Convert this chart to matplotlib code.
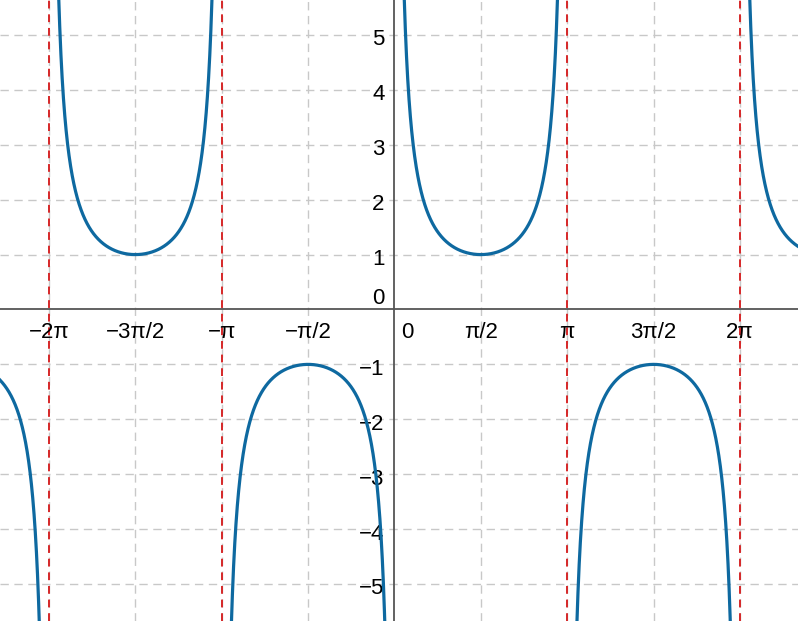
import numpy as np
import matplotlib
matplotlib.use("Agg")
import matplotlib.pyplot as plt
from matplotlib.transforms import offset_copy

plt.rcParams['font.family'] = ['Liberation Sans', 'DejaVu Sans']

# ---- data ----
pi = np.pi
x_ticks = [-2*pi, -1.5*pi, -pi, -0.5*pi, 0, 0.5*pi, pi, 1.5*pi, 2*pi]
x_tick_labels = ['\u22122\u03c0', '\u22123\u03c0/2', '\u2212\u03c0', '\u2212\u03c0/2', '0',
                 '\u03c0/2', '\u03c0', '3\u03c0/2', '2\u03c0']
y_ticks = [-5, -4, -3, -2, -1, 0, 1, 2, 3, 4, 5]
y_tick_labels = ['\u22125', '\u22124', '\u22123', '\u22122', '\u22121', '0', '1', '2', '3', '4', '5']
asymptotes = [-2*pi, -pi, pi, 2*pi]
x_range = (-7.174, 7.338)
y_range = (-5.674, 5.637)

# curve y = csc(x)
x = np.linspace(x_range[0], x_range[1], 6000)
s = np.sin(x)
y = np.where(np.abs(s) < 0.05, np.nan, 1.0 / np.where(s == 0, 1, s))

fig = plt.figure(figsize=(7.98, 6.21), dpi=100)
ax = fig.add_axes([0, 0, 1, 1])
ax.set_xlim(*x_range)
ax.set_ylim(*y_range)
for sp in ax.spines.values():
    sp.set_visible(False)
ax.set_xticks([])
ax.set_yticks([])

grid_kw = dict(color='#c8c8c8', lw=1.0, dashes=(6, 4), zorder=1)
for xt in x_ticks:
    if xt != 0:
        ax.axvline(xt, **grid_kw)
for yt in y_ticks:
    if yt != 0:
        ax.axhline(yt, **grid_kw)

ax.axhline(0, color='#555555', lw=1.3, zorder=2)
ax.axvline(0, color='#555555', lw=1.3, zorder=2)

for a in asymptotes:
    ax.axvline(a, color='#d62728', lw=1.4, dashes=(4, 3), zorder=3)

ax.plot(x, y, color='#0e69a0', lw=2.3, zorder=4)

fs = 16
for xt, lab in zip(x_ticks, x_tick_labels):
    if xt == 0:
        tr = offset_copy(ax.transData, fig=fig, x=13, y=-23, units='dots')
    else:
        tr = offset_copy(ax.transData, fig=fig, x=0, y=-23, units='dots')
    ax.text(xt, 0, lab, transform=tr, ha='center', va='center', fontsize=fs, color='#000000')

for yt, lab in zip(y_ticks, y_tick_labels):
    if yt == 0:
        tr = offset_copy(ax.transData, fig=fig, x=-10, y=11, units='dots')
    else:
        tr = offset_copy(ax.transData, fig=fig, x=-10, y=-5, units='dots')
    ax.text(0, yt, lab, transform=tr, ha='right', va='center', fontsize=fs, color='#000000')

fig.savefig('out.png', dpi=100)
